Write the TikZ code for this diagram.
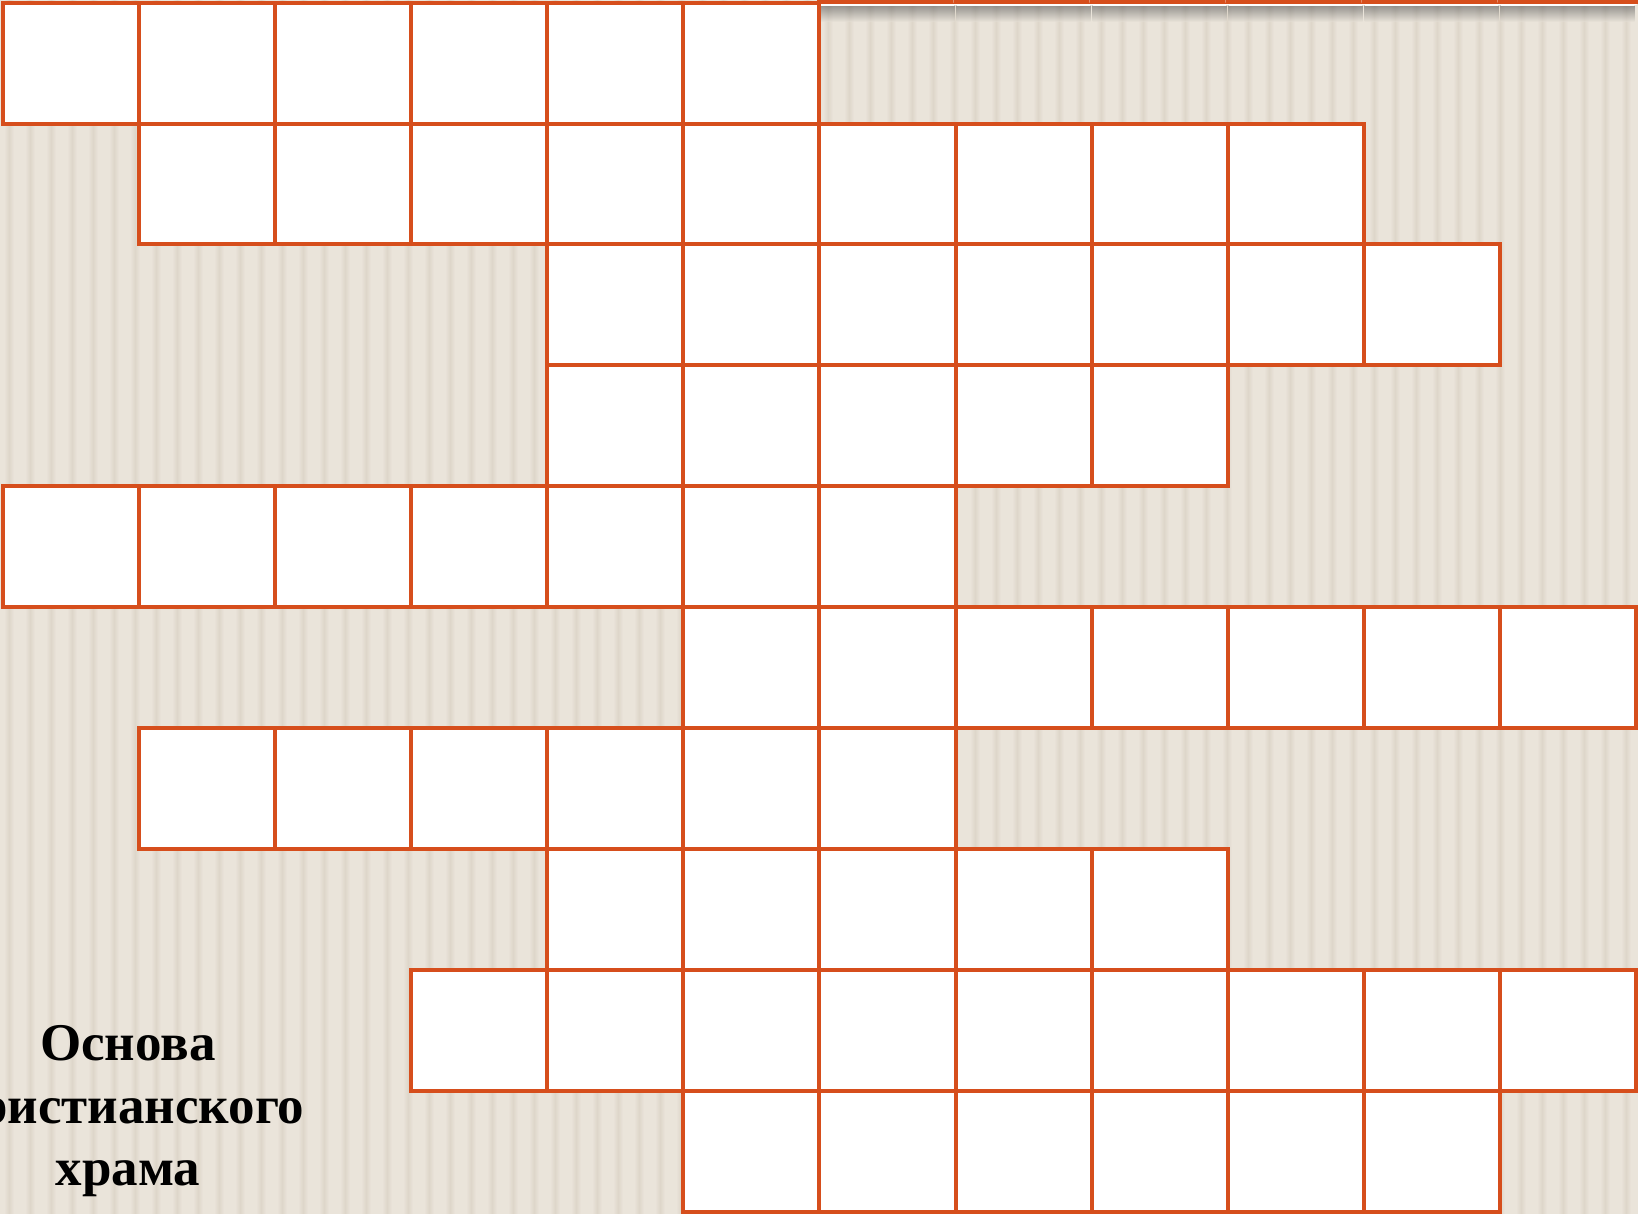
\documentclass[tikz,border=0pt]{standalone}
\usepackage{fontspec}
\setmainfont{Liberation Serif}
\definecolor{bgl}{HTML}{EAE4DA}
\definecolor{bgd}{HTML}{DED6CA}
\definecolor{cwline}{HTML}{D64E1C}
\begin{document}
\begin{tikzpicture}[x=0.5pt,y=-0.5pt,
  cell/.style={draw=cwline, fill=white, line width=2pt, line join=miter},
  label/.style={font=\bfseries\fontsize{26.5pt}{31.5pt}\selectfont, anchor=base, inner sep=0pt, text=black}]
\useasboundingbox (0,0) rectangle (1638,1214);
\clip (0,0) rectangle (1638,1214);
% background with soft vertical stripes
\fill[bgl] (0,0) rectangle (1638,1214);
\foreach \i in {0,...,78} {
  \shade[left color=bgl, right color=bgd] ({\i*21+4},0) rectangle +(5,1214);
  \shade[left color=bgd, right color=bgl] ({\i*21+9},0) rectangle +(5,1214);
}
% partial row cut off at the top
\foreach \c in {6,...,11} {
  \pgfmathsetmacro{\xa}{3.3+\c*136.03}
  \pgfmathsetmacro{\xb}{3.3+(\c+1)*136.03}
  \shade[top color=black!70, bottom color=bgl, opacity=0.55] ({\xa+1},5) rectangle ({\xb-1},22);
  \fill[white, rounded corners=2] ({\xa-2},-10) rectangle ({\xb+2},6);
  \draw[cwline, line width=2pt, fill=white] (\xa,-10) rectangle (\xb,2.2);
}
% crossword grid
\foreach \r/\a/\b in {0/0/5, 1/1/9, 2/4/10, 3/4/8, 4/0/6, 5/5/11, 6/1/6, 7/4/8, 8/3/11, 9/5/10} {
  \foreach \c in {\a,...,\b} {
    \draw[cell] ({3.3+\c*136.03},{2.7+\r*120.9}) rectangle +(136.03,120.9);
  }
}
% caption
\node[label] (t1) at (128,1060) {Основа};
\node[label] (t2) at (128,1123) {христианского};
\node[label] (t3) at (128,1185) {храма};
\end{tikzpicture}
\end{document}
